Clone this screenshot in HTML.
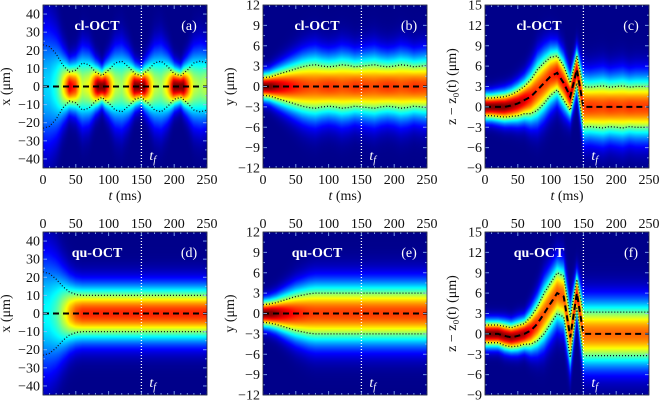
<!DOCTYPE html>
<html><head><meta charset="utf-8">
<style>
body{margin:0;background:#fff;width:660px;height:400px;overflow:hidden;position:relative;font-family:"Liberation Serif",serif;}
canvas{position:absolute;}
svg{position:absolute;left:0;top:0;font-family:"Liberation Serif",serif;}
</style></head>
<body>
<canvas id="c0" width="164" height="163" style="left:43px;top:5px"></canvas>
<canvas id="c1" width="164" height="163" style="left:263px;top:5px"></canvas>
<canvas id="c2" width="164" height="163" style="left:485px;top:5px"></canvas>
<canvas id="c3" width="164" height="163" style="left:43px;top:232px"></canvas>
<canvas id="c4" width="164" height="163" style="left:263px;top:232px"></canvas>
<canvas id="c5" width="164" height="163" style="left:485px;top:232px"></canvas>
<svg id="ov" width="660" height="400" font-family="Liberation Serif, serif"></svg>
<script>
const times = [0,10,20,30,40,50,60,70,80,90,100,110,120,130,140,150,160,170,180,190,200,210,220,230,240,250];
const widthA = [23,22,18,12,8,9,13,12,8,6,9,13,14,11,7,6,9,13,14,11,7,6,9,13,14,13];
const centerA = [0,0,0,0,0,0,0,0,0,0,0,0,0,0,0,0,0,0,0,0,0,0,0,0,0,0];
const widthB = [1.3,1.4,1.7,2.0,2.3,2.6,2.9,3.1,3.2,3.0,2.9,3.0,3.2,3.1,2.9,3.0,3.1,3.2,3.0,2.9,3.0,3.2,3.1,2.9,3.0,3.1];
const centerB = [0,0,0,0,0,0,0,0,0,0,0,0,0,0,0,0,0,0,0,0,0,0,0,0,0,0];
const widthC = [1.3,1.3,1.4,1.5,1.6,1.8,2.0,2.5,3.0,3.0,2.8,2.5,2.5,2.0,2.0,3.0,2.9,3.0,3.1,2.9,3.0,3.1,2.9,3.0,3.0,3.0];
const centerC = [0,0,0,0,0.2,0.5,1,1.5,2.5,3.5,4.5,5,3.5,1.5,5.5,0,0,0,0,0,0,0,0,0,0,0];
const widthD = [23,22,19,15,12,10.5,10,10,10,10,10,10,10,10,10,10,10,10,10,10,10,10,10,10,10,10];
const centerD = [0,0,0,0,0,0,0,0,0,0,0,0,0,0,0,0,0,0,0,0,0,0,0,0,0,0];
const widthE = [1.3,1.4,1.6,1.9,2.2,2.5,2.7,2.9,3.0,3.0,3.0,3.0,3.0,3.0,3.0,3.0,3.0,3.0,3.0,3.0,3.0,3.0,3.0,3.0,3.0,3.0];
const centerE = [0,0,0,0,0,0,0,0,0,0,0,0,0,0,0,0,0,0,0,0,0,0,0,0,0,0];
const widthF = [1.3,1.3,1.3,1.4,1.4,1.5,1.5,2.0,2.5,3.0,3.0,3.0,3.0,3.0,2.0,3.2,3.2,3.2,3.2,3.2,3.2,3.2,3.2,3.2,3.2,3.2];
const centerF = [0,0,0,-0.3,-0.5,-0.3,0,0.5,1.5,3,4.5,6,5.5,-0.5,6,0,0,0,0,0,0,0,0,0,0,0];
const xTicks = [0,50,100,150,200,250];
const yTicksX = [-40,-30,-20,-10,0,10,20,30,40];
const yTicksY = [-12,-9,-6,-3,0,3,6,9,12];
const yTicksZ = [-9,-6,-3,0,3,6,9,12,15];

const panels = [
 {id:'a',L:43,T:5,w:widthA,c:centerA,y0:-45,y1:45,ticks:yTicksX,k:7.3,p:1.0,s:1.0,lab:'cl-OCT',yl:'x (μm)',row:0},
 {id:'b',L:263,T:5,w:widthB,c:centerB,y0:-12,y1:12,ticks:yTicksY,k:1.12,p:0.3,s:1.0,lab:'cl-OCT',yl:'y (μm)',row:0},
 {id:'c',L:485,T:5,w:widthC,c:centerC,y0:-9,y1:15,ticks:yTicksZ,k:1.12,p:0.3,s:1.0,lab:'cl-OCT',yl:'z − z₀(t) (μm)',row:0},
 {id:'d',L:43,T:232,w:widthD,c:centerD,y0:-45,y1:45,ticks:yTicksX,k:8.3,p:1.0,s:1.0,lab:'qu-OCT',yl:'x (μm)',row:1},
 {id:'e',L:263,T:232,w:widthE,c:centerE,y0:-12,y1:12,ticks:yTicksY,k:1.12,p:0.3,s:1.0,lab:'qu-OCT',yl:'y (μm)',row:1},
 {id:'f',L:485,T:232,w:widthF,c:centerF,y0:-9,y1:15,ticks:yTicksZ,k:1.08,p:0.3,s:1.0,lab:'qu-OCT',yl:'z − z₀(t) (μm)',row:1}
];
const W=164,H=163;
function interp(arr,t){
  const i=Math.min(times.length-2,Math.floor(t/10)); const f=(t-times[i])/10;
  return arr[i]*(1-f)+arr[i+1]*f;
}
function cl(v){return Math.max(0,Math.min(1,v));}
function jet(v){return [cl(1.5-Math.abs(4*v-3)),cl(1.5-Math.abs(4*v-2)),cl(1.5-Math.abs(4*v-1))];}
const NS='http://www.w3.org/2000/svg';
const ov=document.getElementById('ov');
function mk(tag,attrs,txt){const e=document.createElementNS(NS,tag);for(const k in attrs)e.setAttribute(k,attrs[k]);if(txt!==undefined)e.textContent=txt;ov.appendChild(e);return e;}

panels.forEach((P,pi)=>{
  const sx=t=>P.L+t/250*W, sy=v=>P.T+(P.y1-v)/(P.y1-P.y0)*H;
  const cv=document.getElementById('c'+pi),ctx=cv.getContext('2d');
  const img=ctx.createImageData(W,H);
  for(let px=0;px<W;px++){
    const t=(px+0.5)/W*250; const w=interp(P.w,t), c=interp(P.c,t);
    const v0=Math.min(1,P.k*Math.pow(w,-P.p)); const sg=w*P.s;
    for(let py=0;py<H;py++){
      const y=P.y1-(py+0.5)/H*(P.y1-P.y0); const d=y-c;
      const v=0.01+v0*Math.exp(-d*d/(2*sg*sg));
      const col=jet(Math.min(1,v)); const o=(py*W+px)*4;
      img.data[o]=col[0]*255;img.data[o+1]=col[1]*255;img.data[o+2]=col[2]*255;img.data[o+3]=255;
    }
  }
  ctx.putImageData(img,0,0);
  let up='',lo='',ce='';
  for(let t=0;t<=250;t+=1){const w=interp(P.w,t),c=interp(P.c,t);
    up+=(t?'L':'M')+sx(t).toFixed(1)+','+sy(c+w).toFixed(1);
    lo+=(t?'L':'M')+sx(t).toFixed(1)+','+sy(c-w).toFixed(1);
    ce+=(t?'L':'M')+sx(t).toFixed(1)+','+sy(c).toFixed(1);}
  let e;
  e=mk('path',{d:up,fill:'none',stroke:'#112',"stroke-width":1.3,"stroke-dasharray":'1 2'});
  
  
  e=mk('path',{d:lo,fill:'none',stroke:'#112',"stroke-width":1.3,"stroke-dasharray":'1 2'});
  
  
  e=mk('path',{d:ce,fill:'none',stroke:'#000',"stroke-width":2,"stroke-dasharray":'6 4'});
  
  
  e=mk('line',{x1:sx(150),x2:sx(150),y1:P.T,y2:P.T+H,stroke:'#fff',"stroke-width":1.3,"stroke-dasharray":'1 2'});
  
  
  const tc='rgba(150,190,255,0.8)';
  for(let t=0;t<=250;t+=10){const len=(t%50===0)?4:2;
    mk('line',{x1:sx(t),x2:sx(t),y1:P.T+H,y2:P.T+H-len,stroke:tc});
    mk('line',{x1:sx(t),x2:sx(t),y1:P.T,y2:P.T+len,stroke:tc});}
  const st=P.ticks[1]-P.ticks[0];
  for(let v=P.ticks[0]-st;v<=P.y1;v+=st/2){if(v<P.y0)continue;const len=(Math.abs(v/st-Math.round(v/st))<0.01)?4:2;
    mk('line',{x1:P.L,x2:P.L+len,y1:sy(v),y2:sy(v),stroke:tc});
    mk('line',{x1:P.L+W,x2:P.L+W-len,y1:sy(v),y2:sy(v),stroke:tc});}
  e=mk('rect',{x:P.L,y:P.T,width:W,height:H,fill:'none',stroke:'#223',"stroke-width":0.8});
  
  
  xTicks.forEach(t=>{
    e=mk('text',{x:sx(t),y:P.row===0?P.T+H+16:P.T-4,"font-size":14,"text-anchor":'middle',fill:'#111'},t);
    
    
  });
  P.ticks.forEach(v=>{
    e=mk('text',{x:P.L-3,y:sy(v)+4.5,"font-size":14,"text-anchor":'end',fill:'#111'},v<0?'−'+(-v):v);
    
    
  });
  e=mk('text',{x:P.L+W/2,y:P.T+H+32,"font-size":14,"text-anchor":'middle',fill:'#111'});
  if(P.row===0){e.innerHTML='<tspan font-style="italic">t</tspan> (ms)';}
  
  
  const yx=P.L-(P.id==='a'||P.id==='d'?33:29), yy=P.T+H/2;
  e=mk('text',{x:yx,y:yy,"font-size":14,"text-anchor":'middle',fill:'#111',transform:`rotate(-90 ${yx} ${yy})`},P.yl);
  
  
  e=mk('text',{x:P.L+54,y:P.T+25,"font-size":14,"font-weight":'bold',"text-anchor":'middle',fill:'#fff'},P.lab);
  
  
  e=mk('text',{x:P.L+146,y:P.T+25,"font-size":14,"text-anchor":'middle',fill:'#fff'},'('+P.id+')');
  
  
  e=mk('text',{x:sx(150)+8,y:P.T+H-8,"font-size":14,"font-style":'italic',fill:'#fff'});
  e.innerHTML='t<tspan font-size="10" dy="3">f</tspan>';
  
  
});
</script>
</body></html>
